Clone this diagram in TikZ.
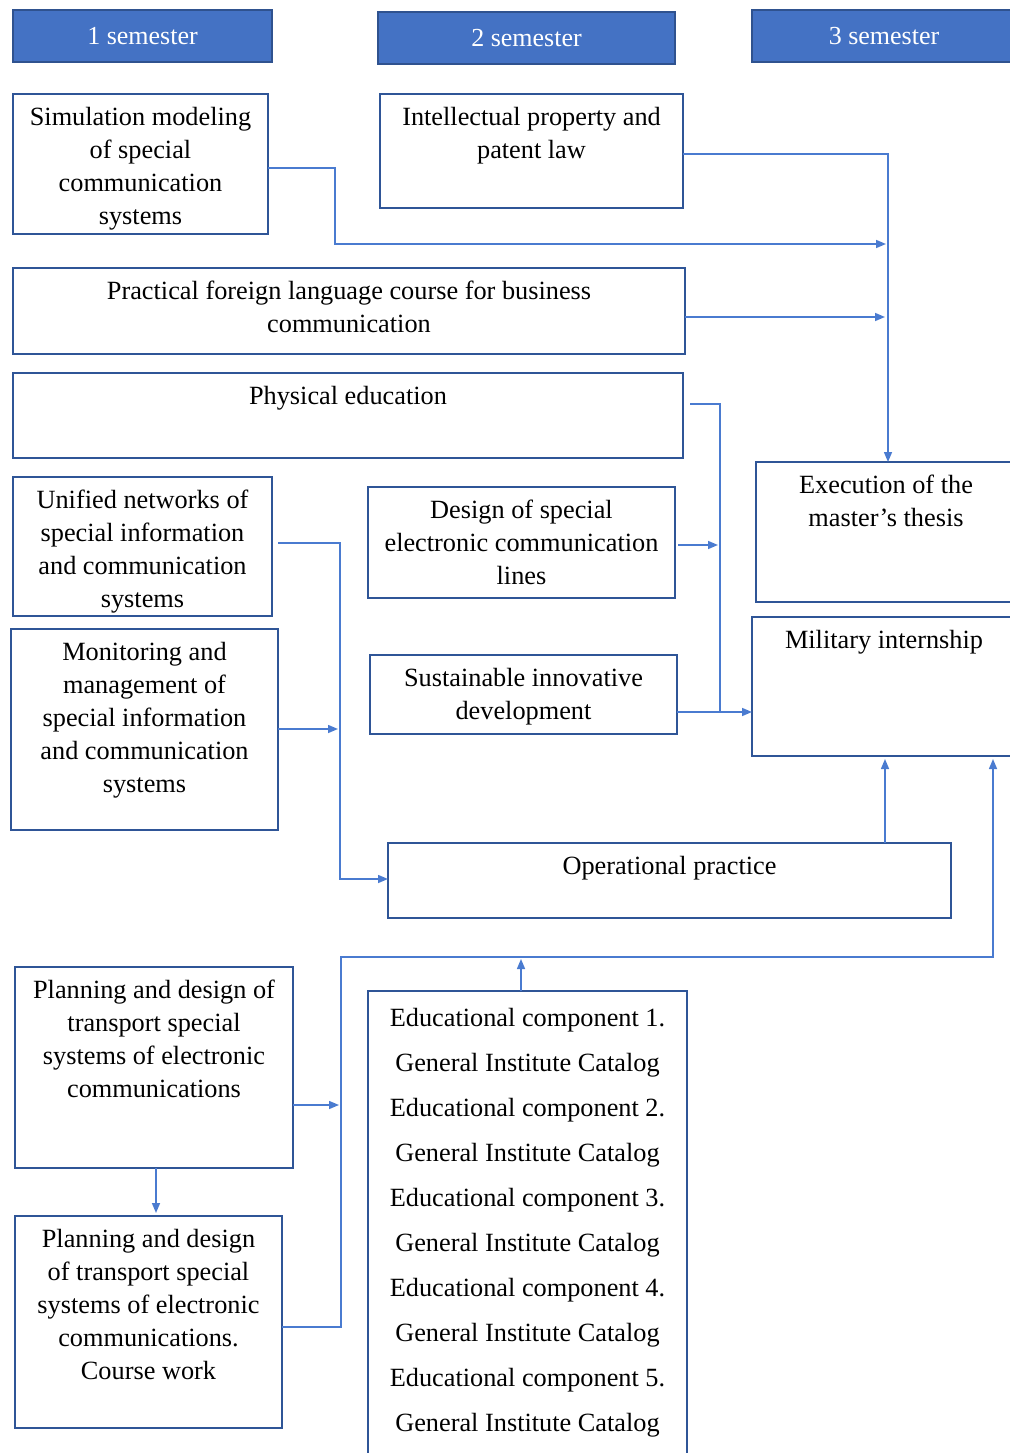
\documentclass[tikz,border=0pt]{standalone}
\usepackage{fontspec}
\setmainfont{Liberation Serif}
\usetikzlibrary{arrows.meta}
\definecolor{boxblue}{HTML}{2F5597}
\definecolor{semfill}{HTML}{4472C4}
\definecolor{semline}{HTML}{2F528F}
\definecolor{linkblue}{HTML}{4A7BD0}
\tikzset{
  boxstyle/.style={draw=boxblue, line width=1.5pt, anchor=north west, inner sep=0pt, outer sep=0pt},
  semstyle/.style={draw=semline, fill=semfill, line width=1.5pt, anchor=north west, inner sep=0pt, outer sep=0pt,
     text=white, font=\fontsize{26}{30}\selectfont},
  txtstyle/.style={anchor=north, inner sep=0pt, align=center, font=\fontsize{26.3}{33}\selectfont},
  link/.style={draw=linkblue, line width=1.5pt},
  arr/.style={link, -{Triangle[length=10pt,width=8pt]}}
}
\newcommand\mybox[6]{%
  \node[boxstyle, minimum width={(#4-#2)*1pt}, minimum height={(#5-#3)*1pt}] (#1) at (#2,#3) {};
  \node[txtstyle] (#1-t) at ([yshift=-13pt]#1.north) {#6};
}
\newcommand\mysem[6]{%
  \node[semstyle, minimum width={(#4-#2)*1pt}, minimum height={(#5-#3)*1pt}] (#1) at (#2,#3) {#6};
}
\begin{document}
\begin{tikzpicture}[x=1pt,y=-1pt]
\useasboundingbox (0,0) rectangle (1009,1453);
% semesters
\mysem{s1}{13}{10}{272}{62}{1 semester}
\mysem{s2}{378}{12}{675}{64}{2 semester}
\mysem{s3}{752}{10}{1016}{62}{3 semester}
% boxes
\mybox{sim}{13}{94}{268}{234}{Simulation modeling\\of special\\communication\\systems}
\mybox{ip}{380}{94}{683}{208}{Intellectual property and\\patent law}
\mybox{pfl}{13}{268}{685}{354}{Practical foreign language course for business\\communication}
\mybox{phys}{13}{373}{683}{458}{Physical education}
\mybox{uni}{13}{477}{272}{616}{Unified networks of\\special information\\and communication\\systems}
\mybox{des}{368}{487}{675}{598}{Design of special\\electronic communication\\lines}
\mybox{mon}{11}{629}{278}{830}{Monitoring and\\management of\\special information\\and communication\\systems}
\mybox{sus}{370}{655}{677}{734}{Sustainable innovative\\development}
\mybox{exe}{756}{462}{1016}{602}{Execution of the\\master’s thesis}
\mybox{mil}{752}{617}{1016}{756}{Military internship}
\mybox{op}{388}{843}{951}{918}{Operational practice}
\mybox{plan}{15}{967}{293}{1168}{Planning and design of\\transport special\\systems of electronic\\communications}
\mybox{pcw}{15}{1216}{282}{1428}{Planning and design\\of transport special\\systems of electronic\\communications.\\Course work}
\node[boxstyle, minimum width=319pt, minimum height=470pt] (edu) at (368,991) {};
\node[txtstyle, font=\fontsize{26.3}{45}\selectfont] (edu-t) at ([yshift=-17pt]edu.north)
  {Educational component 1.\\General Institute Catalog\\Educational component 2.\\General Institute Catalog\\Educational component 3.\\General Institute Catalog\\Educational component 4.\\General Institute Catalog\\Educational component 5.\\General Institute Catalog};
% connectors
\coordinate (busR) at (888,244);
\draw[arr] (sim.east |- 0,168) -| (335,244) -- ([xshift=-2pt]busR);
\draw[arr] (ip.east |- 0,154) -| ([xshift=2pt]exe.north);
\draw[arr] (pfl.east |- 0,317) -- (885,317);
\draw[link] ([xshift=7pt]phys.east |- 0,404) -| (720,712);
\draw[arr] (sus.east |- 0,712) -- (mil.west |- 0,712);
\draw[arr] ([xshift=3pt]des.east |- 0,545) -- (718,545);
\draw[arr] ([xshift=6pt]uni.east |- 0,543) -| (340,879) -- (op.west |- 0,879);
\draw[arr] (mon.east |- 0,729) -- (338,729);
\draw[arr] (op.north -| 885,0) -- ([yshift=-3pt]mil.south -| 885,0);
\draw[arr] (edu.north -| 521,0) -- (521,959);
\draw[arr] (pcw.east |- 0,1327) -| (341,957) -| ([yshift=-3pt]mil.south -| 993,0);
\draw[arr] (plan.east |- 0,1105) -- (339,1105);
\draw[arr] (plan.south -| 156,0) -- ([yshift=3pt]pcw.north -| 156,0);
\end{tikzpicture}
\end{document}
